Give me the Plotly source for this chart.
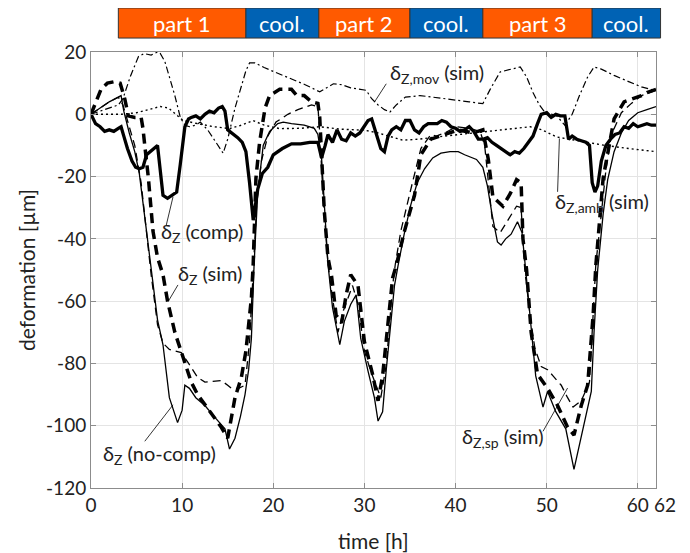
import plotly.graph_objects as go

# ---------------- data ----------------
comp_t = [0, 0.5, 1.0, 1.5, 2.0, 2.5, 3.0, 3.3, 3.6, 4.0, 4.5, 4.9, 5.3, 5.7, 6.1, 6.5, 7.0, 7.3, 7.6, 7.9,
          8.4, 8.9, 9.4, 9.8, 10.3, 10.7, 11.0, 11.5, 12.0, 12.5, 13.0, 13.5, 14.0, 14.4, 14.7, 15.0, 15.5,
          16.1, 16.6, 17.0, 17.4, 17.8, 18.3, 18.8, 19.4, 20.0, 21.0, 22.0, 23.0, 24.0, 24.9, 25.3, 25.7,
          26.0, 26.5, 27.0, 27.5, 28.0, 28.5, 29.0, 29.5, 30.0, 30.4, 30.8, 31.3, 31.8, 32.2, 32.6, 33.0,
          33.5, 34.0, 34.5, 35.0, 35.5, 36.0, 36.5, 37.0, 37.5, 38.0, 38.5, 39.0, 39.5, 40.0, 40.5, 41.0,
          41.5, 42.0, 42.5, 43.0, 43.5, 44.0, 44.5, 45.0, 45.5, 46.0, 46.5, 47.0, 47.5, 48.0, 48.5, 49.0,
          49.4, 50.0, 50.5, 51.0, 51.5, 52.0, 52.4, 52.8, 53.3, 53.8, 54.3, 54.7, 55.0, 55.3, 55.6, 56.0,
          56.5, 57.0, 57.5, 58.0, 58.5, 59.0, 59.5, 60.0, 60.5, 61.0, 61.5, 62.0]
comp_v = [0, -3, -4, -5.5, -5, -5.5, -4.5, -4, -7, -11, -15, -17, -17.5, -17, -13, -12, -11, -10, -18, -26,
          -27, -26, -25, -16, -4, -1.5, -1, -0.5, -1.5, 0, 1, 0.5, 2, 2.5, 1, -5, -6,
          -7.5, -9, -12, -22, -34, -24, -19, -17, -13, -11, -9.5, -9.5, -9, -9, -14, -10,
          -6.5, -9, -5, -8, -8.5, -6, -7, -6, -4, -2, -1.5, -6, -11, -12, -7, -5,
          -4, -5, -2, -2, -5, -6, -4, -3, -3, -3, -2, -2.5, -4, -4.5, -5.5, -5,
          -4, -5.5, -8, -8, -7.5, -9, -10, -11, -12, -13, -12, -12.5, -11, -9, -7, -3,
          0, 0.5, -1, 0, -0.5, -0.5, -8, -7, -8, -8.5, -9, -10, -22, -25, -23, -15,
          -10, -8, -6.5, -6, -4, -4.5, -3, -4, -3.5, -3, -3.5, -3.5]

nocomp_t = [0, 1.0, 2.0, 3.0, 3.3, 3.6, 4.2, 4.8, 5.3, 5.9, 6.6, 7.3, 7.9, 8.6, 9.5, 10.0, 10.3, 10.8, 11.5,
            12.5, 13.5, 14.7, 15.2, 15.8, 16.4, 16.9, 17.3, 17.6, 17.9, 18.3, 18.9, 19.6, 20.5, 21.1, 22.0,
            23.4, 24.5, 24.9, 25.3, 25.7, 26.0, 26.5, 27.3, 27.8, 28.5, 29.1, 29.6, 30.4, 31.1, 31.5, 32.0,
            32.4, 32.8, 33.3, 33.7, 34.4, 35.1, 35.8, 36.6, 37.5, 38.4, 39.4, 40.3, 41.0, 42.3, 43.0, 43.5,
            44.0, 44.6, 45.0, 45.5, 46.1, 46.8, 47.3, 47.7, 48.1, 48.8, 49.6, 50.1, 51.0, 52.1, 53.0, 53.6,
            54.3, 54.9, 55.2, 55.6, 56.2, 56.7, 57.4, 58.2, 59.0, 60.0, 61.0, 62.0]
nocomp_v = [0, 2, 4, 5.5, 6, 1, -6, -12, -19, -33, -50, -66, -74, -91, -99, -95, -87, -88, -91,
            -93.5, -97, -101, -107.5, -104, -97, -90, -82, -72, -48, -25, -10, -5.5, -3, -2.5, -3,
            -3.5, -4.5, -6.5, -14, -32, -48, -62, -74, -66.5, -61, -58, -72, -82.5, -91, -98.5, -95.5,
            -82, -70, -55, -48.5, -38, -29, -22, -17.5, -14, -12.5, -12, -12, -13, -14.5, -17, -23,
            -32, -41, -42, -40, -38.5, -34.5, -38, -50, -62, -84, -94, -89, -95.5, -101, -114, -106,
            -97, -89, -70, -50, -32, -21, -12, -6, -2, 0.5, 1.5, 2.5]

sim_t = [0, 0.5, 1.1, 1.8, 2.6, 3.2, 3.7, 4.1, 4.8, 5.5, 5.7, 5.9, 6.3, 6.8, 7.3, 7.9, 8.4, 9.2, 10.3, 11.0,
         11.7, 12.8, 14.3, 15.0, 15.8, 16.5, 17.0, 17.6, 17.8, 18.1, 18.5, 19.1, 19.6, 20.7, 22.0, 22.6,
         23.4, 24.2, 24.9, 25.1, 25.3, 25.6, 26.0, 26.4, 26.9, 27.5, 28.0, 28.5, 29.3, 30.0, 30.9, 31.5,
         32.0, 32.6, 33.1, 33.5, 34.4, 35.5, 36.2, 37.3, 38.8, 40.3, 41.9, 43.0, 43.6, 44.1, 45.2, 46.0,
         46.7, 47.2, 47.4, 47.8, 48.3, 49.0, 50.1, 51.2, 52.3, 53.0, 53.8, 54.5, 55.1, 55.4, 56.2, 57.4,
         58.5, 60.4, 61.0, 62.0]
sim_v = [0, 4, 8, 10, 10.5, 10, 5, -0.5, -1, -1, -4.5, -10, -20.5, -37.5, -46, -51.5, -60, -70, -79.5, -86,
         -90, -94.5, -100.5, -104, -91, -84.5, -76, -59, -48, -20.5, -9, 2, 6, 8, 8, 6,
         6, 4, 3.5, -1, -13, -31, -46, -52, -64.5, -67, -58, -51.5, -55, -73, -83.5, -92,
         -84, -67.5, -52.5, -48.5, -37.5, -26, -13, -8, -6.5, -5, -6, -5, -14.5, -26.5, -29.5, -25.5,
         -21, -22, -40, -50, -70, -83.5, -88, -93.5, -100.5, -103, -93.5, -87, -64.5, -48.5, -20.5, -1.5,
         4, 6, 7, 8]

sp_t = [0, 1, 2, 3, 3.5, 4, 4.8, 5.5, 6.1, 6.6, 7.3, 7.9, 8.6, 9.9, 10.6, 11.7, 12.5, 14.3, 15.0, 15.4,
        16.2, 16.9, 17.4, 17.8, 18.2, 18.7, 19.4, 20.3, 21.1, 21.6, 22.7, 24.2, 24.9, 25.1, 25.5, 26.0,
        26.5, 27.1, 27.7, 28.7, 29.3, 30.0, 30.7, 31.5, 31.8, 32.4, 33.1, 33.4, 34.0, 35.1, 36.2, 37.3,
        37.9, 38.8, 40.1, 41.5, 42.7, 43.2, 43.7, 44.1, 44.9, 46.0, 46.7, 47.2, 47.6, 48.2, 48.7, 49.4,
        50.1, 50.7, 51.6, 52.3, 52.9, 53.8, 54.7, 55.2, 55.4, 55.8, 56.5, 57.1, 58.2, 59.3, 60.4, 61.8, 62.0]
sp_v = [0, 2, 4, 5.5, 3, -2, -10, -22, -38, -51.5, -67.5, -73.5, -75.5, -76.5, -79.5, -84.5, -86, -85.5, -87, -88,
        -88, -87, -73, -48, -28, -15, -7, -2.5, -1, 0, 1.5, 3, 2.5, -6, -28, -48,
        -59, -70, -63, -55, -61, -76, -82.5, -89, -91, -80.5, -55, -48, -37.5, -24, -11, -6.5,
        -7, -6, -4, -4.5, -5.5, -10, -25, -36, -38, -33, -29.5, -30, -50, -65, -75, -81,
        -82, -84, -87, -91, -94, -92, -86, -59, -48, -37.5, -18, -6.5, 0.5, 3.5, 6, 7.5, 8]

mov_t = [0, 1, 2, 3, 3.5, 4.3, 5.2, 5.8, 6.6, 7.3, 7.6, 8.1, 8.7, 9.2, 9.8, 10.3, 10.8, 11.5, 12.0, 12.8,
         13.6, 14.5, 15.0, 15.8, 16.5, 17.0, 17.4, 18.0, 19.0, 20.7, 22.0, 23.5, 25.1, 25.8, 26.6, 27.5,
         28.5, 30.2, 30.8, 31.5, 32.2, 32.8, 33.5, 34.5, 36.1, 37.5, 39.0, 40.1, 41.5, 43.0, 43.8, 44.9,
         46.0, 47.1, 47.8, 48.5, 49.2, 49.8, 51.1, 52.0, 52.8, 53.6, 54.5, 55.2, 56.0, 57.4, 59.0, 60.4,
         61.8, 62.0]
mov_v = [0, 1, 2, 3, 5, 12, 18.5, 19.5, 19, 20, 19.5, 17, 11, 6, -1, -3.5, -4, -3.5, -2.5, -5,
         -8.5, -12.5, -8, 2, 9, 14, 16.5, 16.5, 15, 13, 11.5, 9.5, 7.2, 8.5, 9.8, 9.5,
         8.5, 7.7, 5, 3, 1.5, 0.7, 3, 5.5, 6, 5.5, 5, 4.5, 4, 3.4, 8, 13.6,
         14.5, 15.2, 12, 7, 3, 0.7, -0.5, -3.5, 0, 6, 12, 15.2, 14.5, 12.5, 10.5, 8.8,
         7.7, 7.5]

amb_t = [0, 3.3, 5, 7.6, 8.5, 10.1, 11.7, 13.5, 15.2, 16.5, 17.8, 19, 20.7, 23, 25.1, 27.5, 30, 31.5, 34.2,
         36, 37.9, 40.3, 42.7, 45.5, 48.2, 49.5, 51.1, 53.5, 56.2, 59, 61.6, 62]
amb_v = [0, 0, 0.5, 2.5, 2, -2, -3, -4, -4.6, -3.5, -2, -3.5, -4.6, -4.5, -4, -4.8, -5.1, -6, -8.3,
         -8, -7.3, -6.5, -5.7, -5, -4, -5, -7.3, -8.5, -9.9, -11, -12, -12]

phase_edges = [3, 17, 25, 35, 43, 55, 62.5]
phase_labels = ["part 1", "cool.", "part 2", "cool.", "part 3", "cool."]

x_ticks = [0, 10, 20, 30, 40, 50, 60, 62]
x_ticktext = ["0", "10", "20", "30", "40", "50", "60", ""]   # "62" drawn just right of its tick below
x_end_label = "62"
y_ticks = [-120, -100, -80, -60, -40, -20, 0, 20]
x_title = "time [h]"
y_title = "deformation [µm]"

# ---------------- figure ----------------
FONT = "Lato, 'Open Sans', sans-serif"
fig = go.Figure()

def add(t, v, width, dash):
    fig.add_trace(go.Scatter(x=t, y=v, mode="lines", showlegend=False,
                             line=dict(color="black", width=width, dash=dash)))

add(amb_t, amb_v, 1.4, "2px,3px")
add(mov_t, mov_v, 1.2, "7px,3px,2px,3px")
add(sp_t, sp_v, 1.3, "8px,5px")
add(nocomp_t, nocomp_v, 1.3, "solid")
add(sim_t, sim_v, 3.5, "10px,6px")
add(comp_t, comp_v, 3.3, "solid")

shapes = []
annotations = []
# phase bar on top
phase_fill = {"part": "#FF5A00", "cool.": "#0062B4"}
for i, lab in enumerate(phase_labels):
    x0 = phase_edges[i] / 62.0
    x1 = phase_edges[i + 1] / 62.0
    col = phase_fill["cool."] if lab.startswith("cool") else phase_fill["part"]
    shapes.append(dict(type="rect", xref="paper", yref="paper", x0=x0, x1=x1, y0=1.032, y1=1.101,
                       fillcolor=col, line=dict(color="#333333", width=1)))
    annotations.append(dict(xref="paper", yref="paper", x=(x0 + x1) / 2, y=1.066, text=lab,
                            showarrow=False, font=dict(color="white", size=22, family=FONT),
                            xanchor="center", yanchor="middle"))

# label pointers (x in hours, y in µm)
pointers = [
    (32.4, 9.8, 31.1, 3.9),
    (9.0, -26.5, 8.26, -35.6),
    (9.54, -54.8, 8.45, -60.2),
    (5.9, -105, 9.0, -93.3),
    (51.2, -24.9, 51.4, -7.8),
    (49.6, -101.8, 52.3, -87.9),
]
for x0, y0, x1, y1 in pointers:
    shapes.append(dict(type="line", xref="x", yref="y", x0=x0, y0=y0, x1=x1, y1=y1,
                       line=dict(color="black", width=0.8)))

labels = [
    (32.6, 13.1, "δ<sub>Z,mov</sub> (sim)"),
    (7.5, -38.1, "δ<sub>Z</sub> (comp)"),
    (9.3, -51.6, "δ<sub>Z</sub> (sim)"),
    (1.1, -109.3, "δ<sub>Z</sub> (no-comp)"),
    (50.7, -28.2, "δ<sub>Z,amb</sub> (sim)"),
    (40.5, -103.8, "δ<sub>Z,sp</sub> (sim)"),
]
for x, y, txt in labels:
    annotations.append(dict(xref="x", yref="y", x=x, y=y, text=txt, showarrow=False,
                            xanchor="left", yanchor="middle",
                            font=dict(size=20, color="#222222", family=FONT)))

# end tick label of the time axis, set slightly to the right of its tick as in the reference
annotations.append(dict(xref="x", yref="paper", x=x_ticks[-1], y=0, text=x_end_label,
                        showarrow=False, xanchor="center", yanchor="middle",
                        xshift=9, yshift=-16,
                        font=dict(size=19, color="#222222", family=FONT)))
# x-axis title
annotations.append(dict(xref="paper", yref="paper", x=0.5, y=0, text=x_title,
                        showarrow=False, xanchor="center", yanchor="middle", yshift=-52,
                        font=dict(size=21, color="#222222", family=FONT)))

axis_common = dict(showgrid=True, gridcolor="#e4e4e4", gridwidth=1, zeroline=False,
                   showline=True, linecolor="#8c8c8c", linewidth=1, mirror="ticks",
                   ticks="inside", ticklen=5, tickcolor="#8c8c8c", automargin=False,
                   tickfont=dict(size=19, color="#222222", family=FONT))

# page body has an 8px margin: figure sized so the plot lands at the reference position
fig.update_layout(
    width=682, height=545,
    margin=dict(l=83, r=34, t=44, b=65),
    paper_bgcolor="white", plot_bgcolor="white",
    font=dict(family=FONT, color="#222222"),
    shapes=shapes, annotations=annotations,
    xaxis=dict(range=[0, 62], tickvals=x_ticks, ticktext=x_ticktext, tickangle=0,
               **axis_common),
    yaxis=dict(range=[-120, 20], tickvals=y_ticks, ticktext=[str(v) for v in y_ticks],
               title=dict(text=y_title, font=dict(size=21, family=FONT), standoff=4),
               **axis_common),
)

fig.write_html("out.html")
